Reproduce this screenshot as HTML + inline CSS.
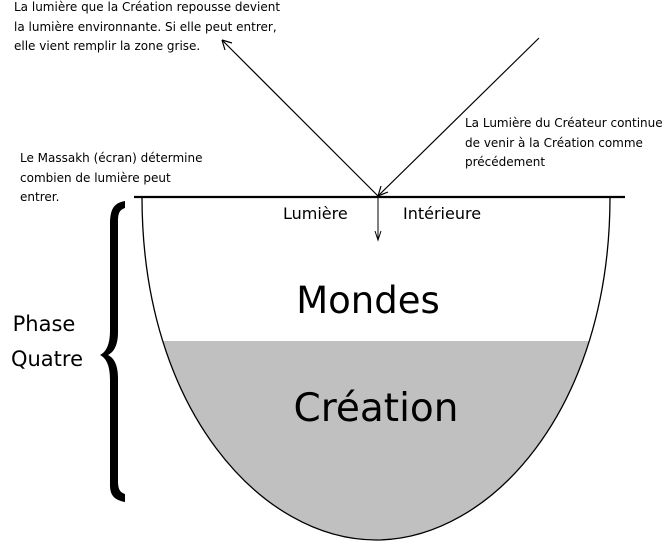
<!DOCTYPE html>
<html><head><meta charset="utf-8"><style>
html,body{margin:0;padding:0;background:#fff;}
body{width:672px;height:544px;overflow:hidden;}
text{font-family:"DejaVu Sans","Liberation Sans",sans-serif;fill:#000;}
</style></head><body>
<svg width="672" height="544" viewBox="0 0 672 544" xmlns="http://www.w3.org/2000/svg">
<defs>
<clipPath id="bowl"><path d="M142,197 C142,410 262,540 376,540 C490,540 610,410 610,197 Z"/></clipPath>
</defs>
<rect x="100" y="341" width="540" height="210" fill="#c0c0c0" clip-path="url(#bowl)"/>
<path d="M142,197 C142,410 262,540 376,540 C490,540 610,410 610,197" fill="none" stroke="#000" stroke-width="1.3"/>
<line x1="134" y1="197" x2="625" y2="197" stroke="#000" stroke-width="2.2"/>
<line x1="539" y1="38" x2="378" y2="196" stroke="#000" stroke-width="1.2"/>
<path d="M378,196 L381,186 M378,196 L388,192" stroke="#000" stroke-width="1.2" fill="none"/>
<line x1="378" y1="196" x2="222" y2="40" stroke="#000" stroke-width="1.2"/>
<path d="M222,40 L225,50 M222,40 L232,43" stroke="#000" stroke-width="1.2" fill="none"/>
<line x1="378" y1="198" x2="378" y2="240" stroke="#000" stroke-width="1"/>
<path d="M375,231 L378,240 L381,231" stroke="#000" stroke-width="1" fill="none"/>
<path d="M125,201 C112,203 110,212 110,225 L110,330 C110,345 106,352 100,355 C106,358 110,365 110,380 L110,485 C110,495 114,500 125,502 L125,494 C119,492 118,488 118,480 L118,378 C118,365 114,358 108,355 C114,352 118,345 118,332 L118,222 C118,214 119,210 125,208 Z" fill="#000"/>
<g font-size="12">
<text x="14" y="11">La lumière que la Création repousse devient</text>
<text x="14" y="31">la lumière environnante. Si elle peut entrer,</text>
<text x="14" y="50">elle vient remplir la zone grise.</text>
<text x="20" y="162">Le Massakh (écran) détermine</text>
<text x="20" y="182">combien de lumière peut</text>
<text x="20" y="201">entrer.</text>
<text x="465" y="127">La Lumière du Créateur continue</text>
<text x="465" y="147">de venir à la Création comme</text>
<text x="465" y="166">précédement</text>
</g>
<text x="283" y="219" font-size="16">Lumière</text>
<text x="403" y="219" font-size="16">Intérieure</text>
<text x="368" y="313" font-size="37" text-anchor="middle">Mondes</text>
<text x="376" y="421" font-size="39" text-anchor="middle">Création</text>
<text x="44" y="331" font-size="21" text-anchor="middle">Phase</text>
<text x="47" y="366" font-size="21" text-anchor="middle">Quatre</text>
</svg>
</body></html>
